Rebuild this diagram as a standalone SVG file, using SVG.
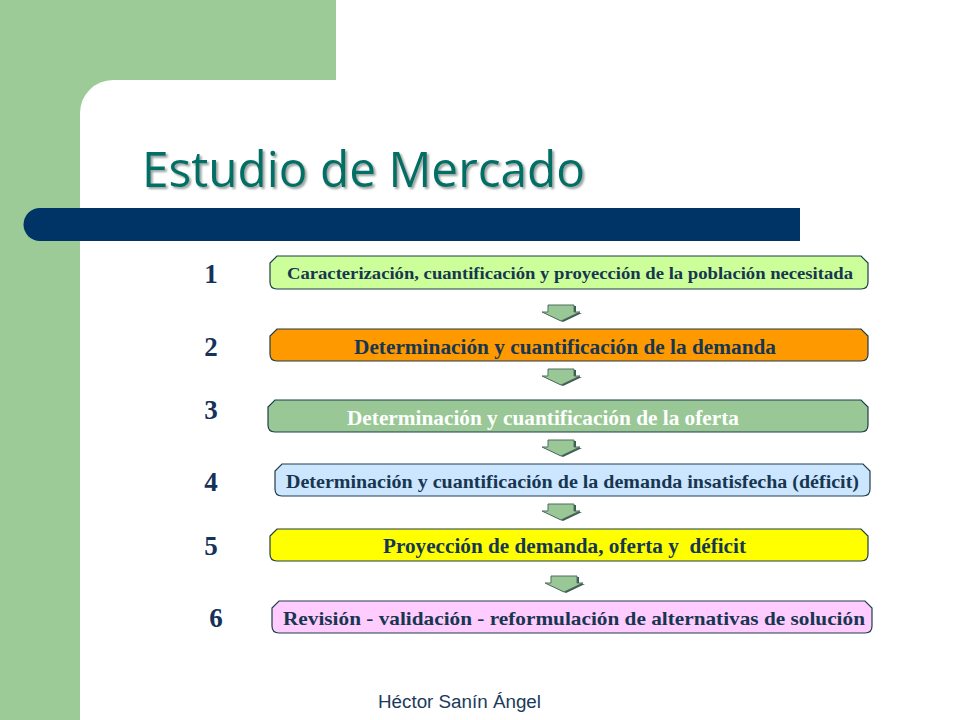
<svg xmlns="http://www.w3.org/2000/svg" width="960" height="720" viewBox="0 0 960 720">
  <defs>
    <style>
      .box { stroke: #1e3c4c; stroke-width: 1.2; }
      .btxt { font-family: "Liberation Serif", "Times New Roman", serif; font-weight: bold; fill: #173650; }
      .num { font-family: "Liberation Serif", "Times New Roman", serif; font-weight: bold; font-size: 27px; fill: #14325a; text-anchor: middle; }
      .arrow { fill: #99c896; stroke: #4e6e60; stroke-width: 1; stroke-linejoin: miter; }
      .arrowsh { fill: #3d5a50; }
    </style>
    <filter id="tshadow" x="-5%" y="-20%" width="110%" height="140%">
      <feDropShadow dx="2" dy="2" stdDeviation="0.8" flood-color="#8a9894" flood-opacity="0.9"/>
    </filter>
    <path id="arr" d="M-13,0 H13 V7 H19 L0,16 L-19,7 H-13 Z"/>
  </defs>

  <!-- background -->
  <rect x="0" y="0" width="960" height="720" fill="#ffffff"/>
  <g id="background">
    <rect x="0" y="0" width="336" height="80" fill="#9ccb98"/>
    <rect x="0" y="0" width="80" height="720" fill="#9ccb98"/>
    <path d="M80,80 H113 A33,33 0 0 0 80,113 Z" fill="#9ccb98"/>
    <path d="M40,208 H800 V241 H40 A16.5,16.5 0 0 1 40,208 Z" fill="#003366"/>
  </g>

  <!-- title -->
  <g id="title">
    <text x="142" y="187" font-family="'Open Sans', 'DejaVu Sans', sans-serif" font-size="49" fill="#007066" textLength="443" lengthAdjust="spacingAndGlyphs" filter="url(#tshadow)">Estudio de Mercado</text>
  </g>

  <!-- numbers -->
  <g id="numbers">
    <text class="num" x="211" y="283">1</text>
    <text class="num" x="211" y="356">2</text>
    <text class="num" x="211" y="419">3</text>
    <text class="num" x="211" y="491">4</text>
    <text class="num" x="211" y="555">5</text>
    <text class="num" x="216" y="627">6</text>
  </g>

  <!-- connectors -->
  <g id="connectors">
    <use href="#arr" class="arrowsh" transform="translate(563,306)"/>
    <use href="#arr" class="arrow" transform="translate(561,305)"/>
    <use href="#arr" class="arrowsh" transform="translate(563,370)"/>
    <use href="#arr" class="arrow" transform="translate(561,369)"/>
    <use href="#arr" class="arrowsh" transform="translate(563,441)"/>
    <use href="#arr" class="arrow" transform="translate(561,440)"/>
    <use href="#arr" class="arrowsh" transform="translate(563,505)"/>
    <use href="#arr" class="arrow" transform="translate(561,504)"/>
    <use href="#arr" class="arrowsh" transform="translate(566,577)"/>
    <use href="#arr" class="arrow" transform="translate(564,576)"/>
  </g>

  <!-- nodes -->
  <g id="node1">
    <path class="box" fill="#ccff99" d="M277,256 H861 L868,263 V282 Q868,289 861,289 H277 Q270,289 270,282 V263 Z"/>
    <text class="btxt" x="287" y="279" font-size="17" textLength="566" lengthAdjust="spacingAndGlyphs">Caracterización, cuantificación y proyección de la población necesitada</text>
  </g>
  <g id="node2">
    <path class="box" fill="#ff9900" d="M277,329 H861 L868,336 V354 Q868,361 861,361 H277 Q270,361 270,354 V336 Z"/>
    <text class="btxt" x="354" y="354" font-size="20" textLength="422" lengthAdjust="spacingAndGlyphs">Determinación y cuantificación de la demanda</text>
  </g>
  <g id="node3">
    <path class="box" fill="#99c896" d="M275,400 H861 L868,407 V425 Q868,432 861,432 H275 Q268,432 268,425 V407 Z"/>
    <text class="btxt" x="347" y="425" font-size="20" textLength="392" lengthAdjust="spacingAndGlyphs" style="fill:#ffffff">Determinación y cuantificación de la oferta</text>
  </g>
  <g id="node4">
    <path class="box" fill="#cce6ff" d="M282,464 H863 L870,471 V489 Q870,496 863,496 H282 Q275,496 275,489 V471 Z"/>
    <text class="btxt" x="286" y="488" font-size="18" textLength="573" lengthAdjust="spacingAndGlyphs">Determinación y cuantificación de la demanda insatisfecha (déficit)</text>
  </g>
  <g id="node5">
    <path class="box" fill="#ffff00" d="M277,529 H861 L868,536 V554 Q868,561 861,561 H277 Q270,561 270,554 V536 Z"/>
    <text class="btxt" x="383" y="553" font-size="20" textLength="363" lengthAdjust="spacingAndGlyphs" xml:space="preserve">Proyección de demanda, oferta y  déficit</text>
  </g>
  <g id="node6">
    <path class="box" fill="#ffccff" d="M279,601 H865 L872,608 V626 Q872,633 865,633 H279 Q272,633 272,626 V608 Z"/>
    <text class="btxt" x="283" y="625" font-size="19.5" textLength="582" lengthAdjust="spacingAndGlyphs">Revisión - validación - reformulación de alternativas de solución</text>
  </g>

  <!-- footer -->
  <g id="footer">
    <text x="378" y="708" font-family="'Liberation Sans', Arial, sans-serif" font-size="18" fill="#1a3a5c" textLength="163" lengthAdjust="spacingAndGlyphs">Héctor Sanín Ángel</text>
  </g>
</svg>
